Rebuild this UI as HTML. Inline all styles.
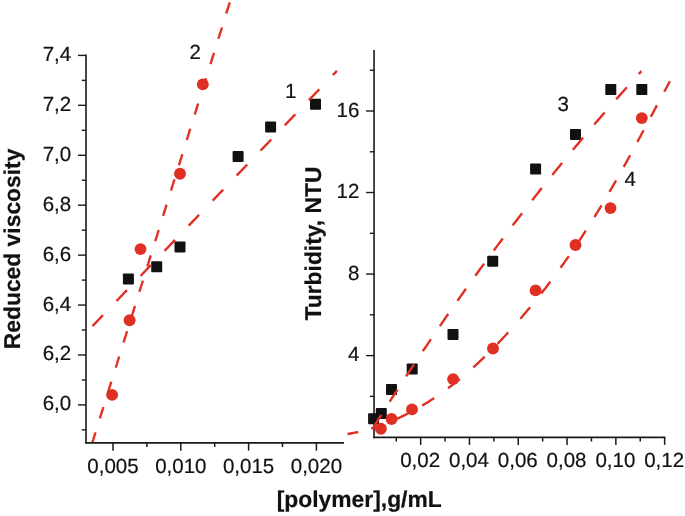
<!DOCTYPE html><html><head><meta charset="utf-8"><title>chart</title>
<style>html,body{margin:0;padding:0;background:#fff}svg{display:block}text{text-rendering:geometricPrecision;stroke:#111;stroke-width:0.2px;font-family:"Liberation Sans",Arial,sans-serif;fill:#111}</style></head><body>
<svg width="685" height="516" viewBox="0 0 685 516">
<rect width="685" height="516" fill="#fff"/>
<line x1="86.00" y1="54.50" x2="86.00" y2="443.65" stroke="#1a1a1a" stroke-width="1.6" />
<line x1="85.20" y1="442.85" x2="344.00" y2="442.85" stroke="#1a1a1a" stroke-width="1.6" />
<line x1="78.00" y1="55.40" x2="86.00" y2="55.40" stroke="#1a1a1a" stroke-width="1.4" />
<text transform="translate(71.2,60.90)" font-size="20.5" text-anchor="end">7,4</text>
<line x1="78.00" y1="105.33" x2="86.00" y2="105.33" stroke="#1a1a1a" stroke-width="1.4" />
<text transform="translate(71.2,110.83)" font-size="20.5" text-anchor="end">7,2</text>
<line x1="78.00" y1="155.26" x2="86.00" y2="155.26" stroke="#1a1a1a" stroke-width="1.4" />
<text transform="translate(71.2,160.76)" font-size="20.5" text-anchor="end">7,0</text>
<line x1="78.00" y1="205.19" x2="86.00" y2="205.19" stroke="#1a1a1a" stroke-width="1.4" />
<text transform="translate(71.2,210.69)" font-size="20.5" text-anchor="end">6,8</text>
<line x1="78.00" y1="255.12" x2="86.00" y2="255.12" stroke="#1a1a1a" stroke-width="1.4" />
<text transform="translate(71.2,260.62)" font-size="20.5" text-anchor="end">6,6</text>
<line x1="78.00" y1="305.05" x2="86.00" y2="305.05" stroke="#1a1a1a" stroke-width="1.4" />
<text transform="translate(71.2,310.55)" font-size="20.5" text-anchor="end">6,4</text>
<line x1="78.00" y1="354.98" x2="86.00" y2="354.98" stroke="#1a1a1a" stroke-width="1.4" />
<text transform="translate(71.2,360.48)" font-size="20.5" text-anchor="end">6,2</text>
<line x1="78.00" y1="404.91" x2="86.00" y2="404.91" stroke="#1a1a1a" stroke-width="1.4" />
<text transform="translate(71.2,410.41)" font-size="20.5" text-anchor="end">6,0</text>
<line x1="81.80" y1="80.37" x2="86.00" y2="80.37" stroke="#1a1a1a" stroke-width="1.4" />
<line x1="81.80" y1="130.30" x2="86.00" y2="130.30" stroke="#1a1a1a" stroke-width="1.4" />
<line x1="81.80" y1="180.22" x2="86.00" y2="180.22" stroke="#1a1a1a" stroke-width="1.4" />
<line x1="81.80" y1="230.16" x2="86.00" y2="230.16" stroke="#1a1a1a" stroke-width="1.4" />
<line x1="81.80" y1="280.09" x2="86.00" y2="280.09" stroke="#1a1a1a" stroke-width="1.4" />
<line x1="81.80" y1="330.02" x2="86.00" y2="330.02" stroke="#1a1a1a" stroke-width="1.4" />
<line x1="81.80" y1="379.95" x2="86.00" y2="379.95" stroke="#1a1a1a" stroke-width="1.4" />
<line x1="81.80" y1="429.88" x2="86.00" y2="429.88" stroke="#1a1a1a" stroke-width="1.4" />
<line x1="113.00" y1="442.85" x2="113.00" y2="450.65" stroke="#1a1a1a" stroke-width="1.5" />
<text transform="translate(113.00,472.8)" font-size="20.5" text-anchor="middle">0,005</text>
<line x1="180.80" y1="442.85" x2="180.80" y2="450.65" stroke="#1a1a1a" stroke-width="1.5" />
<text transform="translate(180.80,472.8)" font-size="20.5" text-anchor="middle">0,010</text>
<line x1="248.60" y1="442.85" x2="248.60" y2="450.65" stroke="#1a1a1a" stroke-width="1.5" />
<text transform="translate(248.60,472.8)" font-size="20.5" text-anchor="middle">0,015</text>
<line x1="316.40" y1="442.85" x2="316.40" y2="450.65" stroke="#1a1a1a" stroke-width="1.5" />
<text transform="translate(316.40,472.8)" font-size="20.5" text-anchor="middle">0,020</text>
<line x1="146.90" y1="442.85" x2="146.90" y2="447.05" stroke="#1a1a1a" stroke-width="1.5" />
<line x1="214.70" y1="442.85" x2="214.70" y2="447.05" stroke="#1a1a1a" stroke-width="1.5" />
<line x1="282.50" y1="442.85" x2="282.50" y2="447.05" stroke="#1a1a1a" stroke-width="1.5" />
<line x1="374.05" y1="50.00" x2="374.05" y2="438.20" stroke="#1a1a1a" stroke-width="1.6" />
<line x1="373.25" y1="437.40" x2="665.40" y2="437.40" stroke="#1a1a1a" stroke-width="1.6" />
<line x1="366.05" y1="111.00" x2="374.05" y2="111.00" stroke="#1a1a1a" stroke-width="1.4" />
<text transform="translate(359.4,116.60)" font-size="20.5" text-anchor="end">16</text>
<line x1="366.05" y1="192.53" x2="374.05" y2="192.53" stroke="#1a1a1a" stroke-width="1.4" />
<text transform="translate(359.4,198.13)" font-size="20.5" text-anchor="end">12</text>
<line x1="366.05" y1="274.06" x2="374.05" y2="274.06" stroke="#1a1a1a" stroke-width="1.4" />
<text transform="translate(359.4,279.66)" font-size="20.5" text-anchor="end">8</text>
<line x1="366.05" y1="355.60" x2="374.05" y2="355.60" stroke="#1a1a1a" stroke-width="1.4" />
<text transform="translate(359.4,361.20)" font-size="20.5" text-anchor="end">4</text>
<line x1="369.85" y1="70.23" x2="374.05" y2="70.23" stroke="#1a1a1a" stroke-width="1.4" />
<line x1="369.85" y1="151.77" x2="374.05" y2="151.77" stroke="#1a1a1a" stroke-width="1.4" />
<line x1="369.85" y1="233.30" x2="374.05" y2="233.30" stroke="#1a1a1a" stroke-width="1.4" />
<line x1="369.85" y1="314.83" x2="374.05" y2="314.83" stroke="#1a1a1a" stroke-width="1.4" />
<line x1="369.85" y1="396.36" x2="374.05" y2="396.36" stroke="#1a1a1a" stroke-width="1.4" />
<line x1="420.65" y1="437.40" x2="420.65" y2="444.90" stroke="#1a1a1a" stroke-width="1.5" />
<text transform="translate(420.15,467)" font-size="20.5" text-anchor="middle">0,02</text>
<line x1="469.45" y1="437.40" x2="469.45" y2="444.90" stroke="#1a1a1a" stroke-width="1.5" />
<text transform="translate(468.95,467)" font-size="20.5" text-anchor="middle">0,04</text>
<line x1="518.25" y1="437.40" x2="518.25" y2="444.90" stroke="#1a1a1a" stroke-width="1.5" />
<text transform="translate(517.75,467)" font-size="20.5" text-anchor="middle">0,06</text>
<line x1="567.05" y1="437.40" x2="567.05" y2="444.90" stroke="#1a1a1a" stroke-width="1.5" />
<text transform="translate(566.55,467)" font-size="20.5" text-anchor="middle">0,08</text>
<line x1="615.85" y1="437.40" x2="615.85" y2="444.90" stroke="#1a1a1a" stroke-width="1.5" />
<text transform="translate(615.35,467)" font-size="20.5" text-anchor="middle">0,10</text>
<line x1="664.65" y1="437.40" x2="664.65" y2="444.90" stroke="#1a1a1a" stroke-width="1.5" />
<text transform="translate(664.15,467)" font-size="20.5" text-anchor="middle">0,12</text>
<line x1="396.25" y1="437.40" x2="396.25" y2="441.50" stroke="#1a1a1a" stroke-width="1.5" />
<line x1="445.05" y1="437.40" x2="445.05" y2="441.50" stroke="#1a1a1a" stroke-width="1.5" />
<line x1="493.85" y1="437.40" x2="493.85" y2="441.50" stroke="#1a1a1a" stroke-width="1.5" />
<line x1="542.65" y1="437.40" x2="542.65" y2="441.50" stroke="#1a1a1a" stroke-width="1.5" />
<line x1="591.45" y1="437.40" x2="591.45" y2="441.50" stroke="#1a1a1a" stroke-width="1.5" />
<line x1="640.25" y1="437.40" x2="640.25" y2="441.50" stroke="#1a1a1a" stroke-width="1.5" />
<text transform="translate(19.9,349.2) rotate(-90)" font-size="22.85" font-weight="bold" stroke="none">Reduced viscosity</text>
<text transform="translate(321.4,320.5) rotate(-90)" font-size="22.85" font-weight="bold" stroke="none">Turbidity, NTU</text>
<text transform="translate(276.7,507.4)" font-size="22.85" font-weight="bold" stroke="none">[polymer],g/mL</text>
<text transform="translate(189.6,59.2)" font-size="20.5">2</text>
<text transform="translate(285,98)" font-size="20.5">1</text>
<text transform="translate(557.6,110.9)" font-size="20.5">3</text>
<text transform="translate(624.6,186.4)" font-size="20.5">4</text>
<rect x="122.90" y="273.60" width="11" height="11" rx="0.8" fill="#111111"/>
<rect x="151.20" y="261.20" width="11" height="11" rx="0.8" fill="#111111"/>
<rect x="174.50" y="241.40" width="11" height="11" rx="0.8" fill="#111111"/>
<rect x="232.60" y="151.10" width="11" height="11" rx="0.8" fill="#111111"/>
<rect x="265.10" y="121.40" width="11" height="11" rx="0.8" fill="#111111"/>
<rect x="310.00" y="98.70" width="11" height="11" rx="0.8" fill="#111111"/>
<path d="M92.5 326.1 L92.7 325.9 L93.3 325.2 L93.9 324.6 L94.6 323.9 L95.2 323.3 L95.8 322.7 L96.4 322.0 L97.0 321.4 L97.6 320.7 L98.2 320.1 L98.8 319.5 L99.5 318.8 L100.1 318.2 L100.7 317.5 L101.3 316.9 L101.9 316.3 L102.5 315.6 L102.9 315.2 M116.5 301.0 L116.6 300.9 L117.3 300.2 L117.9 299.6 L118.5 299.0 L119.1 298.3 L119.7 297.7 L120.3 297.0 L120.9 296.4 L121.5 295.8 L122.2 295.1 L122.8 294.5 L123.4 293.8 L124.0 293.2 L124.6 292.5 L125.2 291.9 L125.8 291.3 L126.5 290.6 L127.0 290.1 M140.6 275.9 L140.6 275.9 L141.2 275.3 L141.8 274.6 L142.4 274.0 L143.0 273.3 L143.6 272.7 L144.3 272.0 L144.9 271.4 L145.5 270.8 L146.1 270.1 L146.7 269.5 L147.3 268.8 L147.9 268.2 L148.5 267.6 L149.2 266.9 L149.8 266.3 L150.4 265.6 L151.0 265.0 L151.0 265.0 M164.6 250.8 L165.1 250.3 L165.7 249.6 L166.3 249.0 L167.0 248.3 L167.6 247.7 L168.2 247.1 L168.8 246.4 L169.4 245.8 L170.0 245.1 L170.6 244.5 L171.2 243.9 L171.9 243.2 L172.5 242.6 L173.1 241.9 L173.7 241.3 L174.3 240.7 L174.9 240.0 L175.0 239.9 M188.6 225.7 L189.0 225.3 L189.7 224.6 L190.3 224.0 L190.9 223.4 L191.5 222.7 L192.1 222.1 L192.7 221.4 L193.3 220.8 L193.9 220.2 L194.6 219.5 L195.2 218.9 L195.8 218.2 L196.4 217.6 L197.0 217.0 L197.6 216.3 L198.2 215.7 L198.9 215.0 L199.1 214.8 M212.7 200.6 L213.0 200.3 L213.6 199.7 L214.2 199.0 L214.8 198.4 L215.4 197.7 L216.0 197.1 L216.6 196.5 L217.3 195.8 L217.9 195.2 L218.5 194.5 L219.1 193.9 L219.7 193.3 L220.3 192.6 L220.9 192.0 L221.6 191.3 L222.2 190.7 L222.8 190.1 L223.1 189.7 M236.7 175.5 L236.9 175.3 L237.5 174.7 L238.1 174.0 L238.7 173.4 L239.3 172.8 L240.0 172.1 L240.6 171.5 L241.2 170.8 L241.8 170.2 L242.4 169.6 L243.0 168.9 L243.6 168.3 L244.3 167.6 L244.9 167.0 L245.5 166.3 L246.1 165.7 L246.7 165.1 L247.2 164.6 M260.8 150.4 L260.8 150.3 L261.4 149.7 L262.0 149.1 L262.7 148.4 L263.3 147.8 L263.9 147.1 L264.5 146.5 L265.1 145.9 L265.7 145.2 L266.3 144.6 L267.0 143.9 L267.6 143.3 L268.2 142.6 L268.8 142.0 L269.4 141.4 L270.0 140.7 L270.6 140.1 L271.2 139.5 M284.8 125.3 L285.4 124.7 L286.0 124.1 L286.6 123.4 L287.2 122.8 L287.8 122.1 L288.4 121.5 L289.0 120.9 L289.7 120.2 L290.3 119.6 L290.9 118.9 L291.5 118.3 L292.1 117.7 L292.7 117.0 L293.3 116.4 L294.0 115.7 L294.6 115.1 L295.2 114.5 L295.2 114.4 M308.8 100.2 L309.3 99.7 L309.9 99.1 L310.5 98.4 L311.1 97.8 L311.7 97.2 L312.4 96.5 L313.0 95.9 L313.6 95.2 L314.2 94.6 L314.8 94.0 L315.4 93.3 L316.0 92.7 L316.7 92.0 L317.3 91.4 L317.9 90.8 L318.5 90.1 L319.1 89.5 L319.3 89.3 M332.9 75.1 L333.2 74.7 L333.8 74.1 L334.4 73.5 L335.1 72.8 L335.7 72.2 L336.3 71.5 L336.9 70.9 L336.9 70.9" fill="none" stroke="#e03023" stroke-width="2.4"/>
<path d="M92.5 442.0 L92.5 442.0 L92.8 440.9 L93.2 439.8 L93.5 438.7 L93.9 437.6 L94.2 436.5 L94.6 435.4 L94.9 434.2 L95.3 433.1 L95.5 432.4 M99.9 418.3 L100.1 417.6 L100.5 416.5 L100.8 415.4 L101.1 414.3 L101.5 413.2 L101.8 412.1 L102.2 411.0 L102.5 409.9 L102.9 408.8 L103.2 407.7 L103.4 407.1 M107.8 393.0 L108.1 392.2 L108.4 391.0 L108.8 389.9 L109.1 388.8 L109.4 387.7 L109.8 386.6 L110.1 385.5 L110.5 384.4 L110.8 383.3 L111.2 382.2 L111.3 381.8 M115.7 367.7 L116.0 366.7 L116.4 365.6 L116.7 364.5 L117.1 363.3 L117.4 362.2 L117.7 361.1 L118.1 360.0 L118.4 358.9 L118.8 357.8 L119.1 356.7 L119.2 356.5 M123.6 342.4 L123.6 342.3 L124.0 341.2 L124.3 340.1 L124.7 339.0 L125.0 337.9 L125.4 336.8 L125.7 335.7 L126.0 334.5 L126.4 333.4 L126.7 332.3 L127.1 331.2 L127.1 331.2 M131.5 317.1 L131.6 316.8 L131.9 315.7 L132.3 314.6 L132.6 313.5 L133.0 312.4 L133.3 311.3 L133.7 310.2 L134.0 309.1 L134.3 308.0 L134.7 306.9 L135.0 305.9 M139.4 291.8 L139.5 291.3 L139.9 290.2 L140.2 289.1 L140.6 288.0 L140.9 286.9 L141.3 285.8 L141.6 284.7 L142.0 283.6 L142.3 282.5 L142.7 281.4 L142.9 280.6 M147.3 266.5 L147.5 265.9 L147.8 264.8 L148.2 263.6 L148.5 262.5 L148.9 261.4 L149.2 260.3 L149.6 259.2 L149.9 258.1 L150.3 257.0 L150.6 255.9 L150.8 255.3 M155.2 241.2 L155.4 240.4 L155.8 239.3 L156.1 238.2 L156.5 237.1 L156.8 236.0 L157.2 234.8 L157.5 233.7 L157.9 232.6 L158.2 231.5 L158.6 230.4 L158.7 230.0 M163.1 215.9 L163.4 214.9 L163.7 213.8 L164.1 212.7 L164.4 211.6 L164.8 210.5 L165.1 209.4 L165.5 208.3 L165.8 207.2 L166.2 206.0 L166.5 204.9 L166.6 204.7 M171.0 190.6 L171.0 190.5 L171.4 189.4 L171.7 188.3 L172.0 187.2 L172.4 186.1 L172.7 185.0 L173.1 183.9 L173.4 182.8 L173.8 181.7 L174.1 180.6 L174.5 179.5 L174.5 179.4 M178.9 165.3 L179.0 165.1 L179.3 163.9 L179.7 162.8 L180.0 161.7 L180.3 160.6 L180.7 159.5 L181.0 158.4 L181.4 157.3 L181.7 156.2 L182.1 155.1 L182.4 154.1 M186.8 140.0 L186.9 139.6 L187.3 138.5 L187.6 137.4 L188.0 136.3 L188.3 135.1 L188.7 134.0 L189.0 132.9 L189.3 131.8 L189.7 130.7 L190.0 129.6 L190.3 128.8 M194.7 114.7 L194.9 114.1 L195.2 113.0 L195.6 111.9 L195.9 110.8 L196.3 109.7 L196.6 108.6 L197.0 107.5 L197.3 106.3 L197.6 105.2 L198.0 104.1 L198.2 103.5 M202.6 89.4 L202.8 88.6 L203.2 87.5 L203.5 86.4 L203.9 85.3 L204.2 84.2 L204.6 83.1 L204.9 82.0 L205.3 80.9 L205.6 79.8 L205.9 78.7 L206.1 78.2 M210.5 64.1 L210.8 63.1 L211.1 62.0 L211.5 60.9 L211.8 59.8 L212.2 58.7 L212.5 57.6 L212.9 56.5 L213.2 55.4 L213.6 54.3 L213.9 53.2 L214.0 52.9 M218.4 38.8 L218.4 38.8 L218.7 37.7 L219.1 36.6 L219.4 35.4 L219.8 34.3 L220.1 33.2 L220.5 32.1 L220.8 31.0 L221.2 29.9 L221.5 28.8 L221.9 27.7 L221.9 27.6 M226.3 13.5 L226.3 13.3 L226.7 12.2 L227.0 11.1 L227.4 10.0 L227.7 8.9 L228.1 7.8 L228.4 6.6 L228.8 5.5 L229.1 4.4 L229.5 3.3 L229.8 2.3" fill="none" stroke="#e03023" stroke-width="2.4"/>
<circle cx="112.10" cy="394.90" r="5.95" fill="#e03023"/>
<circle cx="129.60" cy="320.30" r="5.95" fill="#e03023"/>
<circle cx="140.50" cy="249.10" r="5.95" fill="#e03023"/>
<circle cx="180.00" cy="173.70" r="5.95" fill="#e03023"/>
<circle cx="202.80" cy="84.40" r="5.95" fill="#e03023"/>
<rect x="368.10" y="413.20" width="11" height="11" rx="0.8" fill="#111111"/>
<rect x="375.80" y="408.10" width="11" height="11" rx="0.8" fill="#111111"/>
<rect x="386.00" y="384.00" width="11" height="11" rx="0.8" fill="#111111"/>
<rect x="406.70" y="363.50" width="11" height="11" rx="0.8" fill="#111111"/>
<rect x="447.50" y="328.90" width="11" height="11" rx="0.8" fill="#111111"/>
<rect x="487.20" y="255.70" width="11" height="11" rx="0.8" fill="#111111"/>
<rect x="530.10" y="163.60" width="11" height="11" rx="0.8" fill="#111111"/>
<rect x="570.00" y="128.90" width="11" height="11" rx="0.8" fill="#111111"/>
<rect x="605.30" y="84.00" width="11" height="11" rx="0.8" fill="#111111"/>
<rect x="636.30" y="84.00" width="11" height="11" rx="0.8" fill="#111111"/>
<path d="M373.7 426.8 L374.8 425.1 L375.9 423.4 L377.0 421.7 L378.1 419.9 L379.2 418.2 L380.3 416.5 L381.3 414.8 M389.7 401.6 L390.8 399.9 L391.9 398.2 L393.1 396.4 L394.2 394.7 L395.3 393.0 L396.4 391.3 L397.5 389.5 M406.1 376.4 L407.2 374.7 L408.3 373.0 L409.5 371.2 L410.6 369.5 L411.8 367.8 L412.9 366.1 L414.0 364.4 M422.8 351.2 L423.9 349.5 L425.1 347.8 L426.3 346.1 L427.4 344.3 L428.6 342.6 L429.8 340.9 L430.9 339.2 M439.9 326.1 L441.1 324.3 L442.2 322.6 L443.4 320.9 L444.6 319.2 L445.8 317.4 L447.0 315.7 L448.2 314.0 M457.4 300.9 L458.6 299.2 L459.8 297.4 L461.0 295.7 L462.3 294.0 L463.5 292.3 L464.7 290.5 L465.9 288.8 M475.3 275.7 L476.6 274.0 L477.8 272.3 L479.1 270.5 L480.3 268.8 L481.6 267.1 L482.9 265.4 L484.1 263.6 M493.8 250.5 L495.1 248.8 L496.3 247.1 L497.6 245.4 L498.9 243.6 L500.2 241.9 L501.5 240.2 L502.8 238.5 M512.7 225.4 L514.0 223.6 L515.4 221.9 L516.7 220.2 L518.0 218.5 L519.3 216.7 L520.7 215.0 L522.0 213.3 M532.2 200.2 L533.6 198.5 L534.9 196.7 L536.3 195.0 L537.7 193.3 L539.0 191.6 L540.4 189.8 L541.8 188.1 M552.3 175.0 L553.7 173.3 L555.1 171.5 L556.5 169.8 L557.9 168.1 L559.3 166.4 L560.7 164.6 L562.1 162.9 M572.9 149.8 L574.4 148.1 L575.8 146.3 L577.3 144.6 L578.7 142.9 L580.1 141.2 L581.6 139.4 L583.1 137.7 M594.2 124.6 L595.7 122.8 L597.2 121.1 L598.7 119.4 L600.2 117.7 L601.7 115.9 L603.2 114.2 L604.7 112.5 M616.2 99.3 L617.7 97.6 L619.2 95.9 L620.8 94.1 L622.3 92.4 L623.8 90.7 L625.4 89.0 L626.9 87.2 M638.8 74.1 L639.2 73.6 L639.6 73.2 L639.9 72.8 L640.3 72.4 L640.7 72.0 L641.0 71.6 L641.4 71.2" fill="none" stroke="#e03023" stroke-width="2.4"/>
<path d="M347.5 434.0 L349.0 433.8 L350.6 433.5 L352.1 433.2 L353.6 432.9 L355.1 432.6 L356.7 432.3 L358.3 431.9 M371.3 428.5 L372.9 428.0 L374.6 427.5 L376.2 426.9 L377.8 426.4 L379.4 425.8 L381.1 425.2 L382.7 424.6 M396.4 419.0 L398.1 418.3 L399.8 417.5 L401.5 416.7 L403.2 415.9 L404.8 415.1 L406.5 414.2 L408.2 413.4 M422.2 405.6 L423.9 404.6 L425.6 403.5 L427.3 402.5 L429.0 401.4 L430.7 400.3 L432.4 399.2 L434.1 398.1 M448.0 388.2 L449.7 387.0 L451.4 385.7 L453.1 384.4 L454.8 383.1 L456.4 381.7 L458.1 380.4 L459.8 379.0 M473.3 367.3 L475.0 365.8 L476.6 364.3 L478.2 362.8 L479.8 361.3 L481.4 359.8 L483.0 358.3 L484.6 356.7 M497.6 343.7 L499.1 342.1 L500.6 340.5 L502.2 338.9 L503.7 337.3 L505.2 335.7 L506.7 334.0 L508.2 332.4 M520.3 318.8 L521.7 317.2 L523.1 315.5 L524.5 313.9 L525.9 312.2 L527.3 310.5 L528.7 308.9 L530.1 307.2 M541.3 293.4 L542.6 291.7 L543.9 290.0 L545.2 288.4 L546.5 286.7 L547.8 285.0 L549.1 283.3 L550.3 281.6 M560.5 267.8 L561.8 266.1 L563.0 264.5 L564.1 262.8 L565.3 261.1 L566.5 259.4 L567.7 257.8 L568.8 256.1 M578.2 242.3 L579.3 240.7 L580.4 239.0 L581.5 237.4 L582.6 235.7 L583.6 234.0 L584.7 232.4 L585.8 230.7 M594.4 217.1 L595.4 215.4 L596.4 213.7 L597.5 212.1 L598.5 210.4 L599.5 208.8 L600.5 207.1 L601.5 205.5 M609.5 191.9 L610.5 190.2 L611.4 188.6 L612.4 187.0 L613.3 185.3 L614.2 183.7 L615.2 182.0 L616.1 180.4 M623.7 166.8 L624.7 165.2 L625.6 163.5 L626.5 161.9 L627.4 160.2 L628.3 158.6 L629.2 157.0 L630.1 155.3 M637.4 141.8 L638.3 140.2 L639.2 138.5 L640.1 136.9 L641.0 135.2 L641.8 133.6 L642.7 132.0 L643.6 130.3 M650.8 116.8 L651.7 115.1 L652.6 113.5 L653.5 111.9 L654.3 110.2 L655.2 108.6 L656.1 106.9 L657.0 105.3 M664.3 91.7 L665.1 90.2 L665.9 88.7 L666.7 87.2 L667.5 85.7 L668.3 84.2 L669.1 82.7 L669.9 81.2" fill="none" stroke="#e03023" stroke-width="2.4"/>
<circle cx="380.90" cy="428.80" r="5.95" fill="#e03023"/>
<circle cx="391.60" cy="419.00" r="5.95" fill="#e03023"/>
<circle cx="412.00" cy="409.40" r="5.95" fill="#e03023"/>
<circle cx="453.10" cy="379.10" r="5.95" fill="#e03023"/>
<circle cx="493.00" cy="348.50" r="5.95" fill="#e03023"/>
<circle cx="535.60" cy="290.40" r="5.95" fill="#e03023"/>
<circle cx="575.50" cy="245.00" r="5.95" fill="#e03023"/>
<circle cx="610.50" cy="208.10" r="5.95" fill="#e03023"/>
<circle cx="641.80" cy="118.10" r="5.95" fill="#e03023"/>
</svg></body></html>
